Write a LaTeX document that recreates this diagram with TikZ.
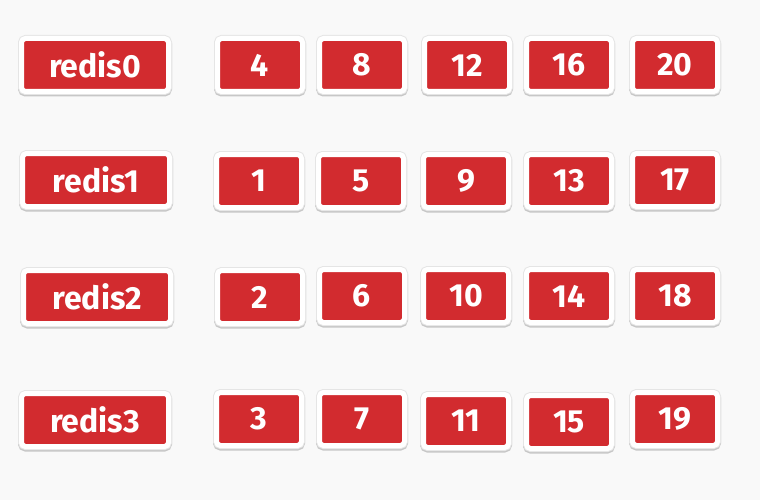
\documentclass[tikz,border=0pt]{standalone}
\usepackage{fontspec}
\setmainfont{Fira Sans}
\definecolor{boxred}{HTML}{D22B2F}
\definecolor{bg}{HTML}{F9F9F9}
\tikzset{
  cell/.style={rectangle, rounded corners=4pt, fill=boxred, draw=white,
    line width=5pt, minimum height=53pt, minimum width=85pt, inner sep=0pt,
    text=white, font=\fontsize{32}{36}\selectfont\bfseries,
    preaction={draw=black!22, line width=7pt, transform canvas={yshift=-1.5pt}},
    preaction={draw=black!10, line width=7pt}},
  server/.style={cell, minimum width=147pt}
}
\begin{document}
\begin{tikzpicture}[x=1pt,y=-1pt]
\fill[bg] (0,0) rectangle (760,500);
\useasboundingbox (0,0) rectangle (760,500);
% row 0
\node[server] (r0) at (95,65) {redis0};
\node[cell] (n4) at (260,65) {4};
\node[cell] (n8) at (362,65) {8};
\node[cell] (n12) at (467,65) {12};
\node[cell] (n16) at (569,65) {16};
\node[cell] (n20) at (675,65) {20};
% row 1
\node[server] (r1) at (96,180) {redis1};
\node[cell] (n1) at (259,181) {1};
\node[cell] (n5) at (361,181) {5};
\node[cell] (n9) at (466,181) {9};
\node[cell] (n13) at (569,181) {13};
\node[cell] (n17) at (675,180) {17};
% row 2
\node[server] (r2) at (97,297) {redis2};
\node[cell] (n2) at (260,297) {2};
\node[cell] (n6) at (362,296) {6};
\node[cell] (n10) at (466,296) {10};
\node[cell] (n14) at (569,296) {14};
\node[cell] (n18) at (675,296) {18};
% row 3
\node[server] (r3) at (95,420) {redis3};
\node[cell] (n3) at (259,419) {3};
\node[cell] (n7) at (362,419) {7};
\node[cell] (n11) at (466,421) {11};
\node[cell] (n15) at (569,422) {15};
\node[cell] (n19) at (675,419) {19};
\end{tikzpicture}
\end{document}
